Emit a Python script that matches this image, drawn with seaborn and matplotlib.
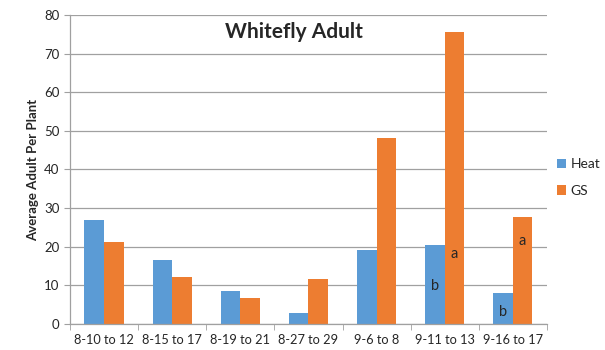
import matplotlib
matplotlib.use("Agg")
import matplotlib.pyplot as plt
import seaborn as sns
import pandas as pd

periods = ["8-10 to 12", "8-15 to 17", "8-19 to 21", "8-27 to 29",
           "9-6 to 8", "9-11 to 13", "9-16 to 17"]
heat = [26.9, 16.6, 8.5, 2.9, 19.2, 20.5, 7.9]
gs = [21.2, 12.2, 6.7, 11.7, 48.2, 75.6, 27.7]
series = ["Heat", "GS"]
colors = ["#5B9BD5", "#ED7D31"]

# significance letters: (period index, series, letter, y position)
letters = [(5, "Heat", "b", 9.9), (5, "GS", "a", 18.1),
           (6, "Heat", "b", 3.1), (6, "GS", "a", 21.5)]

df = pd.DataFrame({
    "period": periods * 2,
    "value": heat + gs,
    "series": ["Heat"] * len(periods) + ["GS"] * len(periods),
})

sns.set_style("white")
plt.rcParams["font.family"] = ["Lato", "DejaVu Sans"]

fig = plt.figure(figsize=(6.05, 3.5), dpi=100)
ax = fig.add_axes([0.1157, 0.0743, 0.7883, 0.8829])

sns.barplot(data=df, x="period", y="value", hue="series", hue_order=series,
            palette=colors, width=0.575, saturation=1, ax=ax,
            edgecolor="none", linewidth=0)

ax.set_ylim(0, 80)
ax.set_xlim(-0.5, len(periods) - 0.5)
ax.set_yticks(range(0, 81, 10))
ax.yaxis.grid(True, color="#a0a0a0", linewidth=0.9)
ax.set_axisbelow(True)
for s in ["top", "right"]:
    ax.spines[s].set_visible(False)
for s in ["left", "bottom"]:
    ax.spines[s].set_color("#a0a0a0")
    ax.spines[s].set_linewidth(0.9)

# tick marks between categories on x, outward ticks on y
ax.set_xticks(range(len(periods)))
ax.set_xticklabels(periods, fontsize=9.2)
ax.set_xticks([i - 0.5 for i in range(len(periods) + 1)], minor=True)
ax.tick_params(axis="x", which="major", length=0, pad=7)
ax.tick_params(axis="x", which="minor", length=4, color="#a0a0a0", bottom=True)
ax.tick_params(axis="y", length=4, color="#a0a0a0", left=True, labelsize=9.5)

ax.set_xlabel("")
ax.set_ylabel("Average Adult Per Plant", fontsize=9.5, fontweight="bold", labelpad=4)

fig.text(0.486, 0.909, "Whitefly Adult", ha="center", va="center",
         fontsize=15, fontweight="bold")

for idx, name, txt, ypos in letters:
    bar = ax.containers[series.index(name)][idx]
    ax.text(bar.get_x() + bar.get_width() / 2, ypos, txt, ha="center",
            va="center", fontsize=10.5)

leg = ax.legend(loc="center left", bbox_to_anchor=(1.0, 0.474), frameon=False,
                fontsize=10, handlelength=0.7, handleheight=0.7,
                labelspacing=1.05, handletextpad=0.3, borderaxespad=0.3)

fig.savefig("out.png", dpi=100)
